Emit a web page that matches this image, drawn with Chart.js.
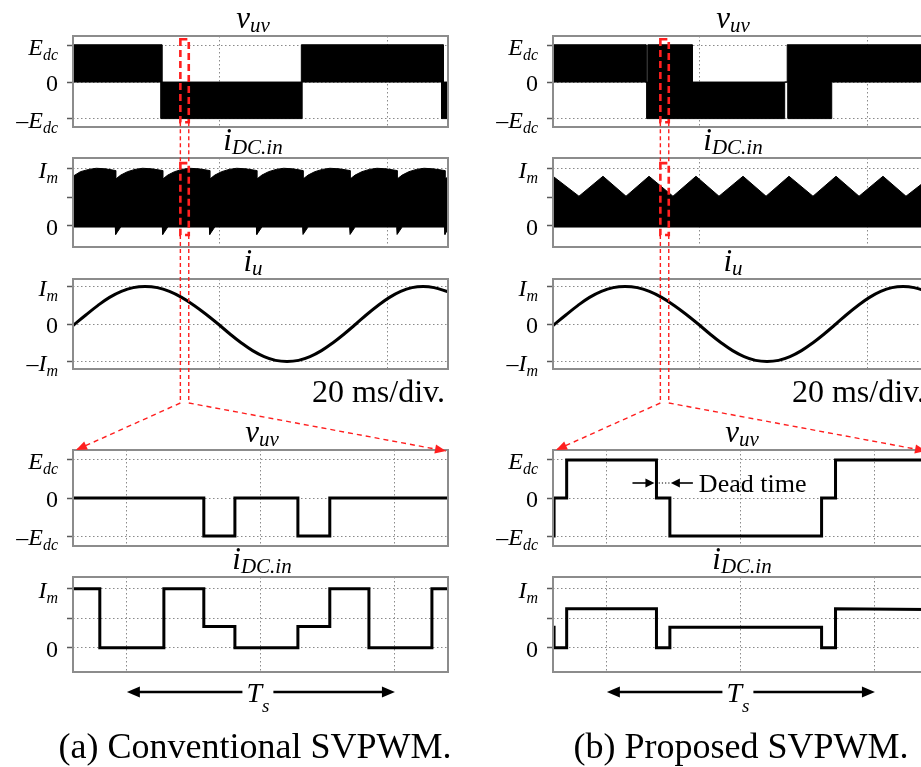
<!DOCTYPE html>
<html>
<head>
<meta charset="utf-8">
<script src="https://cdn.jsdelivr.net/npm/chart.js"></script>
<style>
html, body { margin: 0; padding: 0; background: #fff; overflow: hidden; }
#page { position: relative; width: 921px; height: 767px; overflow: hidden; background: #fff; }
#page canvas { position: absolute; }
#overlay { left: 0; top: 0; z-index: 5; pointer-events: none; }
</style>
</head>
<body>
<div id="page"><canvas id="overlay" width="921" height="767"></canvas></div>
<script>
const SERIF = '"Liberation Serif", "Times New Roman", serif';

// time axes: slow traces in ms (20 ms/div), zoomed traces in us over one switching period
const slowRange = [2.62, 47.26];
const slowGrid = [20, 40];
const fastRange = [-20.1, 119.8];
const fastGrid = [0, 50, 100];

// y ticks and their labels [main, subscript]
const voltTicks = [1, 0, -1];
const voltLabels = [['E', 'dc'], ['0', ''], ['–E', 'dc']];
const dcTicks = [1, 0.5, 0];
const dcLabels = [['I', 'm'], ['', ''], ['0', '']];
const phaseTicks = [1, 0, -1];
const phaseLabels = [['I', 'm'], ['0', ''], ['–I', 'm']];

// (a) conventional SVPWM, v_uv switching band: upper and lower edges [t ms, v/Edc]
const vuvUpperA = [[2.62, 1.02], [13.2, 1.02], [13.2, 0], [29.8, 0], [29.8, 1.02], [46.7, 1.02], [46.7, 0], [47.26, 0]];
const vuvLowerA = [[2.62, 0], [13.1, 0], [13.1, -1], [29.9, -1], [29.9, 0], [46.5, 0], [46.5, -1], [47.26, -1]];

// (a) dc-link input current band [t ms, i/Im]
const idcUpperA = [
  [2.62, 0.87], [3.5, 0.95], [4.5, 0.99], [5.4, 1.01], [6.5, 1.0], [7.7, 0.97],
  [7.7, 0.82], [8.3, 0.89], [9.1, 0.95], [10.0, 0.99], [10.9, 1.01], [12.0, 1.0], [13.3, 0.97],
  [13.3, 0.82], [13.9, 0.89], [14.7, 0.95], [15.6, 0.99], [16.5, 1.01], [17.6, 1.0], [18.9, 0.97],
  [18.9, 0.82], [19.5, 0.89], [20.3, 0.95], [21.2, 0.99], [22.1, 1.01], [23.2, 1.0], [24.5, 0.97],
  [24.5, 0.82], [25.1, 0.89], [25.9, 0.95], [26.8, 0.99], [27.7, 1.01], [28.8, 1.0], [30.0, 0.97],
  [30.0, 0.82], [30.6, 0.89], [31.4, 0.95], [32.3, 0.99], [33.2, 1.01], [34.3, 1.0], [35.6, 0.97],
  [35.6, 0.82], [36.2, 0.89], [37.0, 0.95], [37.9, 0.99], [38.8, 1.01], [39.9, 1.0], [41.2, 0.97],
  [41.2, 0.82], [41.8, 0.89], [42.6, 0.95], [43.5, 0.99], [44.4, 1.01], [45.5, 1.0], [46.9, 0.97],
  [46.9, 0.82], [47.26, 0.86]
];
const idcLowerA = [
  [2.62, -0.02], [7.65, -0.02], [7.7, -0.15], [8.3, -0.02], [13.25, -0.02], [13.3, -0.15], [13.9, -0.02],
  [18.85, -0.02], [18.9, -0.15], [19.5, -0.02], [24.45, -0.02], [24.5, -0.15], [25.1, -0.02],
  [29.95, -0.02], [30.0, -0.15], [30.6, -0.02], [35.55, -0.02], [35.6, -0.15], [36.2, -0.02],
  [41.15, -0.02], [41.2, -0.15], [41.8, -0.02], [46.85, -0.02], [46.9, -0.15], [47.26, -0.05]
];

// (b) proposed SVPWM
const vuvUpperB = [[2.62, 1.02], [13.7, 1.02], [13.7, 0], [13.9, 0], [13.9, 1.02], [19.2, 1.02], [19.2, 0], [30.5, 0], [30.5, 1.02], [47.26, 1.02]];
const vuvLowerB = [[2.62, 0], [13.8, 0], [13.8, -1], [30.2, -1], [30.2, 0], [30.6, 0], [30.6, -1], [35.8, -1], [35.8, 0], [47.26, 0]];
const idcUpperB = [
  [2.62, 0.87], [5.71, 0.52], [8.57, 0.87], [11.31, 0.52], [14.05, 0.87], [16.9, 0.52],
  [19.64, 0.87], [22.38, 0.52], [25.24, 0.87], [27.98, 0.52], [30.71, 0.87], [33.57, 0.52],
  [36.31, 0.87], [39.05, 0.52], [41.9, 0.87], [44.64, 0.52], [47.26, 0.82]
];
const idcLowerB = [[2.62, -0.02], [47.26, -0.02]];

// phase current, same in both cases [t ms, i/Im]
const iuWave = [
  [2.62, -0.04], [4.15, 0.24], [5.56, 0.49], [6.97, 0.71], [8.38, 0.87], [9.79, 0.97], [11.2, 1.0],
  [12.65, 0.97], [14.1, 0.87], [15.55, 0.71], [17.0, 0.5], [18.45, 0.26], [19.9, 0.0],
  [21.27, -0.26], [22.63, -0.5], [24.0, -0.71], [25.37, -0.87], [26.73, -0.97], [28.1, -1.0],
  [29.47, -0.97], [30.83, -0.87], [32.2, -0.71], [33.57, -0.5], [34.93, -0.26], [36.3, 0.0],
  [37.63, 0.26], [38.97, 0.5], [40.3, 0.71], [41.63, 0.87], [42.97, 0.97], [44.3, 1.0],
  [45.6, 0.97], [47.26, 0.86]
];

// one switching period [t us, value]
const vuvZoomA = [[-20.1, 0], [28.7, 0], [28.7, -1], [40.3, -1], [40.3, 0], [63.8, 0], [63.8, -1], [75.7, -1], [75.7, 0], [119.8, 0]];
const idcZoomA = [[-20.1, 1], [-10.1, 1], [-10.1, 0], [13.8, 0], [13.8, 1], [28.7, 1], [28.7, 0.36], [40.3, 0.36], [40.3, 0],
  [63.8, 0], [63.8, 0.36], [75.7, 0.36], [75.7, 1], [90.3, 1], [90.3, 0], [113.8, 0], [113.8, 1], [119.8, 1]];
const vuvZoomB = [[-20.1, -1], [-19.7, -1], [-19.7, 0], [-15.0, 0], [-15.0, 1], [18.5, 1], [18.5, 0], [23.5, 0], [23.5, -1],
  [80.1, -1], [80.1, 0], [85.3, 0], [85.3, 1], [119.8, 1]];
const idcZoomB = [[-20.1, 0.35], [-19.7, 0.35], [-19.7, 0], [-15.0, 0], [-15.0, 0.66], [18.5, 0.66], [18.5, 0], [23.5, 0],
  [23.5, 0.35], [80.1, 0.35], [80.1, 0], [85.3, 0], [85.3, 0.66], [119.8, 0.65]];

// zoom window on the slow traces (ms) and the dead-time interval (us)
const zoomWindow = [15.4, 16.4];
const deadTime = [18.5, 23.5];

const toXY = arr => arr.map(([x, y]) => ({ x, y }));
const band = arr => ({ data: toXY(arr), borderColor: '#000', backgroundColor: '#000', borderWidth: 1, fill: 'origin', pointRadius: 0, tension: 0 });
const trace = (arr, tension) => ({ data: toXY(arr), borderColor: '#000', borderWidth: 3, fill: false, pointRadius: 0, tension, borderJoinStyle: 'miter' });

function drawSub(ctx, main, sub, x, y, m, s, align, drop) {
  const mainFont = (main === '0' ? '' : 'italic ') + m + 'px ' + SERIF;
  const subFont = 'italic ' + s + 'px ' + SERIF;
  ctx.font = mainFont;
  const w1 = ctx.measureText(main).width;
  ctx.font = subFont;
  const w2 = sub ? ctx.measureText(sub).width : 0;
  const x0 = align === 'right' ? x - w1 - w2 : align === 'center' ? x - (w1 + w2) / 2 : x;
  ctx.textAlign = 'left';
  ctx.textBaseline = 'alphabetic';
  ctx.fillStyle = '#000';
  ctx.font = mainFont;
  ctx.fillText(main, x0, y);
  if (sub) {
    ctx.font = subFont;
    ctx.fillText(sub, x0 + w1, y + drop);
  }
  return [x0, x0 + w1 + w2];
}

// frame, y labels and title of each scope panel
const scopeText = {
  id: 'scopeText',
  afterDatasetsDraw(chart, args, o) {
    const { ctx, chartArea: a, scales: { y } } = chart;
    ctx.save();
    ctx.setLineDash([]);
    ctx.strokeStyle = '#8c8c8c';
    ctx.lineWidth = 2;
    ctx.strokeRect(a.left, a.top, a.right - a.left, a.bottom - a.top);
    o.ticks.forEach((v, i) => {
      const [main, sub] = o.labels[i];
      if (main) drawSub(ctx, main, sub, a.left - 15, y.getPixelForValue(v) + 9, 24, 16, 'right', 5);
    });
    drawSub(ctx, o.title[0], o.title[1], o.titleX, a.top - 8, 31, 21, 'center', 4);
    ctx.restore();
  }
};

const FRAME_L = 73, FRAME_W = 375, PAD_TOP = 36, PAD_BOTTOM = 18, CANVAS_W = 460;
const page = document.getElementById('page');
const overlay = document.getElementById('overlay');

function scope(left, frameTop, frameH, p) {
  const cv = document.createElement('canvas');
  cv.width = CANVAS_W;
  cv.height = frameH + PAD_TOP + PAD_BOTTOM;
  cv.style.left = left + 'px';
  cv.style.top = (frameTop - PAD_TOP) + 'px';
  page.insertBefore(cv, overlay);
  return new Chart(cv, {
    type: 'line',
    data: { datasets: p.datasets },
    options: {
      responsive: false,
      animation: false,
      events: [],
      layout: { padding: { left: FRAME_L - 6, right: CANVAS_W - FRAME_L - FRAME_W, top: PAD_TOP, bottom: PAD_BOTTOM } },
      plugins: {
        legend: { display: false },
        tooltip: { enabled: false },
        scopeText: { ticks: p.yt, labels: p.labels, title: p.title, titleX: p.titleX }
      },
      scales: {
        x: {
          type: 'linear', min: p.xr[0], max: p.xr[1],
          afterBuildTicks: s => { s.ticks = p.xg.map(v => ({ value: v })); },
          afterFit: s => { s.height = 0; },
          ticks: { display: false },
          grid: { color: '#8a8a8a', lineWidth: 1, drawTicks: false },
          border: { display: false, dash: [1.5, 2.5] }
        },
        y: {
          type: 'linear', min: p.yr[0], max: p.yr[1],
          afterBuildTicks: s => { s.ticks = p.yt.map(v => ({ value: v })); },
          afterFit: s => { s.width = 6; },
          ticks: { display: false },
          grid: { color: '#8a8a8a', lineWidth: 1, drawTicks: true, tickLength: 6, tickColor: '#5a5a5a', tickWidth: 1.5 },
          border: { display: false, dash: [1.5, 2.5] }
        }
      }
    },
    plugins: [scopeText]
  });
}

function column(off, s) {
  return {
    vTop: scope(off, 36, 91, { datasets: [band(s.vu), band(s.vl)], xr: slowRange, xg: slowGrid, yr: [-1.23, 1.26], yt: voltTicks, labels: voltLabels, title: ['v', 'uv'], titleX: 253 }),
    iTop: scope(off, 158, 89, { datasets: [band(s.iu), band(s.il)], xr: slowRange, xg: slowGrid, yr: [-0.37, 1.19], yt: dcTicks, labels: dcLabels, title: ['i', 'DC.in'], titleX: 253 }),
    iu: scope(off, 279, 90, { datasets: [trace(iuWave, 0.4)], xr: slowRange, xg: slowGrid, yr: [-1.2, 1.2], yt: phaseTicks, labels: phaseLabels, title: ['i', 'u'], titleX: 253 }),
    vZoom: scope(off, 450, 96, { datasets: [trace(s.vz, 0)], xr: fastRange, xg: fastGrid, yr: [-1.26, 1.26], yt: voltTicks, labels: voltLabels, title: ['v', 'uv'], titleX: 262 }),
    iZoom: scope(off, 577, 95, { datasets: [trace(s.iz, 0)], xr: fastRange, xg: fastGrid, yr: [-0.41, 1.2], yt: dcTicks, labels: dcLabels, title: ['i', 'DC.in'], titleX: 262 })
  };
}

const colA = column(0, { vu: vuvUpperA, vl: vuvLowerA, iu: idcUpperA, il: idcLowerA, vz: vuvZoomA, iz: idcZoomA });
const colB = column(480, { vu: vuvUpperB, vl: vuvLowerB, iu: idcUpperB, il: idcLowerB, vz: vuvZoomB, iz: idcZoomB });

// ---- overlay: zoom markers, period arrows, captions ----
const octx = overlay.getContext('2d');
const RED = '#ff1f1f';
const X = (ch, v) => ch.canvas.offsetLeft + ch.scales.x.getPixelForValue(v);
const Y = (ch, v) => ch.canvas.offsetTop + ch.scales.y.getPixelForValue(v);
const box = ch => {
  const a = ch.chartArea, l = ch.canvas.offsetLeft, t = ch.canvas.offsetTop;
  return { left: a.left + l, right: a.right + l, top: a.top + t, bottom: a.bottom + t };
};

function arrowHead(ctx, fx, fy, tx, ty, len, hw) {
  const ang = Math.atan2(ty - fy, tx - fx);
  const c = Math.cos(ang), s = Math.sin(ang);
  const bx = tx - len * c, by = ty - len * s;
  ctx.beginPath();
  ctx.moveTo(tx, ty);
  ctx.lineTo(bx - hw * s, by + hw * c);
  ctx.lineTo(bx + hw * s, by - hw * c);
  ctx.closePath();
  ctx.fill();
}

function line(ctx, x1, y1, x2, y2) {
  ctx.beginPath();
  ctx.moveTo(x1, y1);
  ctx.lineTo(x2, y2);
  ctx.stroke();
}

function decorate(c, caption, captionX, withDeadTime) {
  const ctx = octx;
  ctx.save();
  // zoom markers
  const x0 = X(c.vTop, zoomWindow[0]), x1 = X(c.vTop, zoomWindow[1]);
  const vb = [Y(c.vTop, 1.17), Y(c.vTop, -1.1)];
  const ib = [Y(c.iTop, 1.1), Y(c.iTop, -0.16)];
  const yEnd = box(c.iu).bottom + 34;
  const z = box(c.vZoom);
  ctx.strokeStyle = RED;
  ctx.fillStyle = RED;
  ctx.lineWidth = 2.6;
  ctx.setLineDash([7, 4]);
  ctx.strokeRect(x0, vb[0], x1 - x0, vb[1] - vb[0]);
  ctx.strokeRect(x0, ib[0], x1 - x0, ib[1] - ib[0]);
  ctx.lineWidth = 1.4;
  ctx.setLineDash([4, 3]);
  [x0, x1].forEach(x => { line(ctx, x, vb[1], x, ib[0]); line(ctx, x, ib[1], x, yEnd); });
  ctx.setLineDash([5, 4]);
  const tipL = [z.left + 3, z.top], tipR = [z.right - 2, z.top + 1];
  line(ctx, x0, yEnd, tipL[0], tipL[1]);
  line(ctx, x1, yEnd, tipR[0], tipR[1]);
  ctx.setLineDash([]);
  arrowHead(ctx, x0, yEnd, tipL[0], tipL[1], 11, 4.5);
  arrowHead(ctx, x1, yEnd, tipR[0], tipR[1], 11, 4.5);

  // switching period arrow
  const zl = box(c.iZoom);
  const tL = X(c.iZoom, 0), tR = X(c.iZoom, 100), ty = zl.bottom + 20;
  const [lx0, lx1] = drawSub(ctx, 'T', 's', (tL + tR) / 2 - 3, ty + 10, 28, 19, 'center', 10);
  ctx.strokeStyle = '#000';
  ctx.fillStyle = '#000';
  ctx.lineWidth = 2.5;
  line(ctx, tL + 10, ty, lx0 - 4, ty);
  line(ctx, lx1 + 4, ty, tR - 10, ty);
  arrowHead(ctx, tR, ty, tL, ty, 13, 5.5);
  arrowHead(ctx, tL, ty, tR, ty, 13, 5.5);

  // slow time base
  ctx.font = '32px ' + SERIF;
  ctx.textAlign = 'right';
  ctx.textBaseline = 'alphabetic';
  ctx.fillText('20 ms/div.', box(c.iu).right - 3, box(c.iu).bottom + 33);

  if (withDeadTime) {
    const dy = Y(c.vZoom, 0) - 15;
    const d0 = X(c.vZoom, deadTime[0]) - 2, d1 = X(c.vZoom, deadTime[1]) + 1;
    ctx.lineWidth = 1.6;
    line(ctx, d0 - 22, dy, d0 - 6, dy);
    arrowHead(ctx, d0 - 22, dy, d0, dy, 9, 4.5);
    line(ctx, d1 + 6, dy, d1 + 22, dy);
    arrowHead(ctx, d1 + 22, dy, d1, dy, 9, 4.5);
    ctx.lineWidth = 1;
    ctx.setLineDash([1.2, 2]);
    line(ctx, d0 + 1, dy, d1 - 1, dy);
    ctx.setLineDash([]);
    ctx.font = '26px ' + SERIF;
    ctx.textAlign = 'left';
    ctx.fillText('Dead time', d1 + 28, dy + 9);
  }

  // caption
  ctx.font = '36px ' + SERIF;
  ctx.textAlign = 'center';
  ctx.fillText(caption, captionX, 758);
  ctx.restore();
}

decorate(colA, '(a) Conventional SVPWM.', 255, false);
decorate(colB, '(b) Proposed SVPWM.', 741, true);
</script>
</body>
</html>
